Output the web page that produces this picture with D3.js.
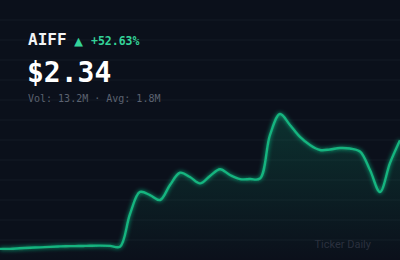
<!DOCTYPE html>
<html>
<head>
<meta charset="utf-8">
<script src="https://cdn.jsdelivr.net/npm/d3@7"></script>
<style>
  html, body { margin: 0; padding: 0; background: #0b101b; }
  svg { display: block; }
</style>
</head>
<body>
<div id="chart"></div>
<script>
'use strict';

// ticker info
var ticker = 'AIFF';
var lastPrice = 2.34;
var changePct = '+52.63%';
var volume = '13.2M';
var avgVolume = '1.8M';

// daily close prices, left to right
var prices = [
  1.533, 1.533, 1.537, 1.541, 1.544, 1.548, 1.551, 1.553, 1.554, 1.556,
  1.557, 1.555, 1.549, 1.792, 1.956, 1.933, 1.896, 2.008, 2.099, 2.067,
  2.020, 2.075, 2.125, 2.082, 2.052, 2.052, 2.056, 2.380, 2.536, 2.454,
  2.365, 2.305, 2.268, 2.272, 2.283, 2.279, 2.257, 2.119, 1.956, 2.171,
  2.340
];

var width = 400,
    height = 260;

var svg = d3.select('#chart').append('svg')
    .attr('width', width)
    .attr('height', height);

var defs = svg.append('defs');

var grad = defs.append('linearGradient')
    .attr('id', 'areaFill')
    .attr('x1', 0).attr('y1', 0).attr('x2', 0).attr('y2', 1);
grad.append('stop').attr('offset', '0%').attr('stop-color', '#10b981').attr('stop-opacity', 0.2);
grad.append('stop').attr('offset', '100%').attr('stop-color', '#10b981').attr('stop-opacity', 0.0);

var glow = defs.append('filter')
    .attr('id', 'glow')
    .attr('x', '-10%').attr('y', '-10%').attr('width', '120%').attr('height', '120%');
glow.append('feGaussianBlur').attr('stdDeviation', 2).attr('result', 'blur');
var merge = glow.append('feMerge');
merge.append('feMergeNode').attr('in', 'blur');
merge.append('feMergeNode').attr('in', 'SourceGraphic');

svg.append('rect')
    .attr('width', width)
    .attr('height', height)
    .attr('fill', '#0b101b');

// background grid
svg.append('g')
  .selectAll('line')
  .data(d3.range(20, height, 20))
  .enter().append('line')
    .attr('x1', 0).attr('x2', width)
    .attr('y1', function(d) { return d; })
    .attr('y2', function(d) { return d; })
    .attr('stroke', '#151b27')
    .attr('stroke-width', 1);

var x = d3.scaleLinear()
    .domain([0, prices.length - 1])
    .range([0, width]);

var y = d3.scaleLinear()
    .domain([1.45, 2.64])
    .range([260, 100]);

var area = d3.area()
    .x(function(d, i) { return x(i); })
    .y0(height)
    .y1(function(d) { return y(d); })
    .curve(d3.curveCatmullRom.alpha(0.5));

var line = d3.line()
    .x(function(d, i) { return x(i); })
    .y(function(d) { return y(d); })
    .curve(d3.curveCatmullRom.alpha(0.5));

svg.append('path')
    .datum(prices)
    .attr('d', area)
    .attr('fill', 'url(#areaFill)');

svg.append('path')
    .datum(prices)
    .attr('d', line)
    .attr('fill', 'none')
    .attr('stroke', '#13b47f')
    .attr('stroke-width', 2.4)
    .attr('stroke-linejoin', 'round')
    .attr('filter', 'url(#glow)');

// header
var mono = '"DejaVu Sans Mono", "Liberation Mono", monospace';

svg.append('text')
    .attr('x', 28).attr('y', 45)
    .attr('font-family', mono)
    .attr('font-weight', 'bold')
    .attr('font-size', 16)
    .attr('fill', '#f3f4f6')
    .text(ticker);

svg.append('text')
    .attr('x', 74).attr('y', 46)
    .attr('font-family', mono)
    .attr('font-size', 15)
    .attr('fill', '#34d399')
    .text('\u25B2');

svg.append('text')
    .attr('x', 91).attr('y', 45)
    .attr('font-family', mono)
    .attr('font-weight', 'bold')
    .attr('font-size', 11.5)
    .attr('fill', '#34d399')
    .text(changePct);

svg.append('text')
    .attr('x', 27).attr('y', 82)
    .attr('font-family', mono)
    .attr('font-weight', 'bold')
    .attr('font-size', 28)
    .attr('fill', '#ffffff')
    .text('$' + lastPrice.toFixed(2));

svg.append('text')
    .attr('x', 28).attr('y', 102)
    .attr('font-family', mono)
    .attr('font-size', 10)
    .attr('fill', '#5b6270')
    .text('Vol: ' + volume + ' \u00B7 Avg: ' + avgVolume);

svg.append('text')
    .attr('x', 371).attr('y', 248)
    .attr('text-anchor', 'end')
    .attr('font-family', 'Roboto, "Noto Sans", sans-serif')
    .attr('font-size', 11)
    .attr('fill', '#2a303d')
    .text('Ticker Daily');
</script>
</body>
</html>
